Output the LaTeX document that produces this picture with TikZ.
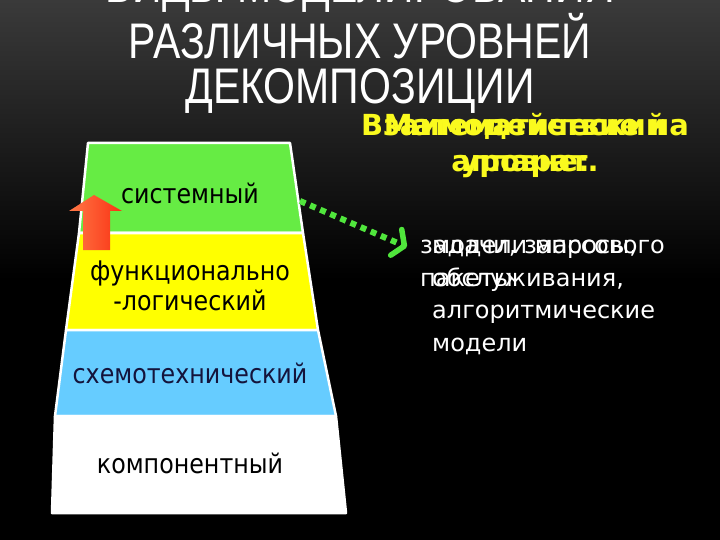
\documentclass[tikz,border=0pt]{standalone}
\usepackage{fontspec}
\setmainfont{DejaVu Sans}
\newfontfamily\titlefont[FakeStretch=0.82]{Liberation Sans}
\newfontfamily\bandfont[FakeStretch=0.88]{DejaVu Sans}
\usetikzlibrary{arrows.meta}
\definecolor{bandgreen}{RGB}{102,236,68}
\definecolor{bandyellow}{RGB}{255,255,0}
\definecolor{bandblue}{RGB}{102,204,255}
\definecolor{textyellow}{RGB}{250,250,30}
\definecolor{dotgreen}{RGB}{80,230,60}
\definecolor{arrowred}{RGB}{250,50,20}
\definecolor{arroworange}{RGB}{255,120,70}
\definecolor{navytext}{RGB}{20,20,60}
\tikzset{
  levelband/.style={draw=white, line width=2.5pt, line join=round},
  leveltext/.style={font=\bandfont\fontsize{27}{30}\selectfont, inner sep=0pt, align=center},
  titletext/.style={text=white, font=\titlefont\fontsize{50}{45}\selectfont, inner sep=0pt, align=center},
  yellowtext/.style={text=textyellow, font=\bfseries\fontsize{29}{36}\selectfont, inner sep=0pt, align=center},
  whitetext/.style={text=white, font=\fontsize{24}{32.5}\selectfont, inner sep=0pt, align=left},
  dotarrow/.style={dotgreen, line width=6pt, dash pattern=on 6pt off 5pt,
    -{Straight Barb[length=9pt, width=28pt, line width=5.5pt, round]}}
}
\begin{document}
\begin{tikzpicture}[x=1pt, y=-1pt]
  \useasboundingbox (0,0) rectangle (720,540);
  % background
  \fill[black] (0,0) rectangle (720,540);
  \shade[top color={rgb,255:red,58;green,58;blue,58}, bottom color=black] (0,0) rectangle (720,280);
  % title
  \node[titletext, anchor=north] (title) at (360,-33)
    {ВИДЫ МОДЕЛИРОВАНИЯ\\РАЗЛИЧНЫХ УРОВНЕЙ\\ДЕКОМПОЗИЦИИ};
  % pyramid
  \def \Bands{
    143/233/88/79/290/303/bandgreen,
    233/330/79/66/303/318/bandyellow,
    330/416/66/55/318/336/bandblue,
    416/513/55/52/336/346/white}
  \foreach \ya / \yb / \la / \lb / \ra / \rb / \c in \Bands{
    \path[levelband, fill=\c] (\la,\ya) -- (\ra,\ya) -- (\rb,\yb) -- (\lb,\yb) -- cycle;
  }
  \node[leveltext, text=black] (sys) at (190,193) {системный};
  \node[leveltext, text=black] (func) at (190,286) {функционально\\-логический};
  \node[leveltext, text=navytext] (circ) at (190,373) {схемотехнический};
  \node[leveltext, text=black] (comp) at (190,463) {компонентный};
  % red arrow
  \shade[left color=arroworange, right color=arrowred]
    (83,250) -- (83,211) -- (69,211) -- (94,195) -- (122,211) -- (110,211) -- (110,250) -- cycle;
  % link to the right
  \coordinate (linkstart) at (300,201);
  \coordinate (linkend) at (407,247);
  \draw[dotarrow] (linkstart) -- (linkend);
  \node[yellowtext, anchor=north] (levelA) at (525,113) {Взаимодействие на\\уровне:};
  \node[yellowtext, anchor=north] (levelB) at (525,113) {Математический\\аппарат.};
  \node[whitetext, anchor=north west] (modelsA) at (432,240)
    {модели массового\\обслуживания,\\алгоритмические\\модели};
  \node[whitetext, anchor=north west] (modelsB) at (420,240)
    {задачи, запросы,\\пакеты};
\end{tikzpicture}
\end{document}
